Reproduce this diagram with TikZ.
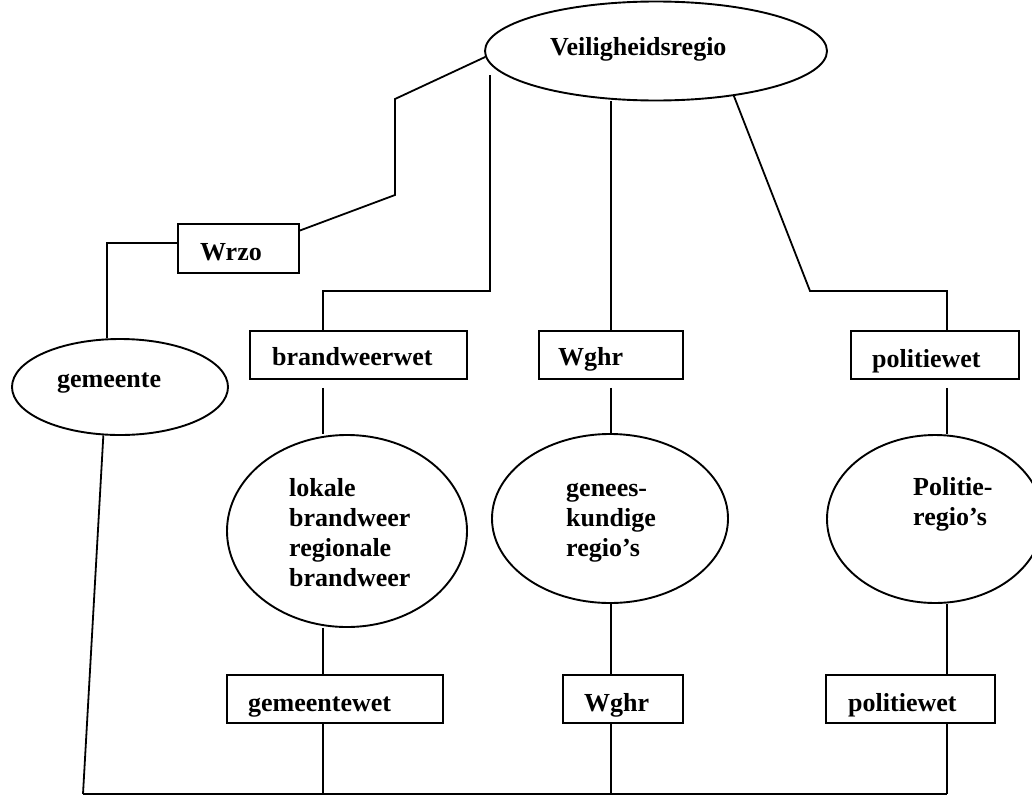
\documentclass[tikz,border=0pt]{standalone}
\usepackage{fontspec}
\setmainfont{Liberation Serif}
\usetikzlibrary{shapes.geometric}

\tikzset{
  oval/.style={draw, ellipse, line width=1.9pt, inner sep=0pt},
  lawbox/.style={draw, rectangle, line width=1.9pt, inner sep=0pt},
  lbl/.style={inner sep=0pt, font=\bfseries\fontsize{26}{30}\selectfont},
  link/.style={line width=1.8pt}
}

\begin{document}
\begin{tikzpicture}[x=1pt, y=-1pt]
  \useasboundingbox (0,0) rectangle (1032,795);

  % top
  \node[oval, minimum width=342pt, minimum height=99pt] (veilig) at (656,51) {};
  \node[lbl, anchor=base west] (veiligtxt) at (550,55) {Veiligheidsregio};

  % left branch
  \node[lawbox, minimum width=121pt, minimum height=49pt] (wrzo) at (238.5,248.5) {};
  \node[lbl, anchor=base west] (wrzotxt) at (200,260) {Wrzo};
  \node[oval, minimum width=216pt, minimum height=96pt] (gemeente) at (120,387) {};
  \node[lbl, anchor=base west] (gemeentetxt) at (57,387) {gemeente};

  % laws, top row
  \node[lawbox, minimum width=217pt, minimum height=48pt] (bwwet) at (358.5,355) {};
  \node[lbl, anchor=base west] (bwwettxt) at (272,365) {brandweerwet};
  \node[lawbox, minimum width=144pt, minimum height=48pt] (wghr) at (611,355) {};
  \node[lbl, anchor=base west] (wghrtxt) at (558,365) {Wghr};
  \node[lawbox, minimum width=168pt, minimum height=48pt] (polwet) at (935,355) {};
  \node[lbl, anchor=base west] (polwettxt) at (872,367) {politiewet};

  % regions
  \node[oval, minimum width=240pt, minimum height=192pt] (lokale) at (347,531) {};
  \node[lbl, anchor=north west, align=left] (lokaletxt) at (289,475) {\rule{0pt}{21pt}lokale\\brandweer\\regionale\\brandweer};
  \node[oval, minimum width=236pt, minimum height=169pt] (genees) at (610,518.5) {};
  \node[lbl, anchor=north west, align=left] (geneestxt) at (566,475) {\rule{0pt}{21pt}genees-\\kundige\\regio's};
  \node[oval, minimum width=216pt, minimum height=168pt] (politie) at (935,519) {};
  \node[lbl, anchor=north west, align=left] (politietxt) at (913,474) {\rule{0pt}{21pt}Politie-\\regio's};

  % laws, bottom row
  \node[lawbox, minimum width=216pt, minimum height=48pt] (gemwet) at (335,699) {};
  \node[lbl, anchor=base west] (gemwettxt) at (248,711) {gemeentewet};
  \node[lawbox, minimum width=120pt, minimum height=48pt] (wghrb) at (623,699) {};
  \node[lbl, anchor=base west] (wghrbtxt) at (584,711) {Wghr};
  \node[lawbox, minimum width=169pt, minimum height=48pt] (polwetb) at (910.5,699) {};
  \node[lbl, anchor=base west] (polwetbtxt) at (848,711) {politiewet};

  % bends
  \coordinate (w1) at (395,99);
  \coordinate (w2) at (395,195);
  \coordinate (w3) at (107,243);
  \coordinate (b0) at (490,75);
  \coordinate (b1) at (490,291);
  \coordinate (b2) at (323,291);
  \coordinate (p1) at (810,291);
  \coordinate (p2) at (947,291);
  \coordinate (base) at (83,794);

  \draw[link] (veilig.182) -- (w1) -- (w2) -- ([yshift=18pt]wrzo.east);
  \draw[link] ([yshift=5.5pt]wrzo.west) -- (w3) -- (w3 |- gemeente.north);
  \draw[link] (gemeente.251) -- (base);
  \draw[link] (b0) -- (b1) -- (b2) -- (b2 |- bwwet.north);
  \draw[link] (veilig.south -| wghr.north) -- (wghr.north);
  \draw[link] (veilig.330) -- (p1) -- (p2) -- (p2 |- polwet.north);

  % columns
  \draw[link, shorten <=8pt] (b2 |- bwwet.south) -- (b2 |- lokale.north);
  \draw[link] (b2 |- lokale.south) -- (b2 |- gemwet.north);
  \draw[link] (b2 |- gemwet.south) -- (b2 |- base);
  \draw[link, shorten <=8pt] (wghr.south) -- (wghr.south |- genees.north);
  \draw[link] (wghr.south |- genees.south) -- (wghr.south |- wghrb.north);
  \draw[link] (wghr.south |- wghrb.south) -- (wghr.south |- base);
  \draw[link, shorten <=8pt] (p2 |- polwet.south) -- (p2 |- politie.north);
  \draw[link] (p2 |- politie.south) -- (p2 |- polwetb.north);
  \draw[link] (p2 |- polwetb.south) -- (p2 |- base);
  \draw[link] (base) -- (p2 |- base);
\end{tikzpicture}
\end{document}
